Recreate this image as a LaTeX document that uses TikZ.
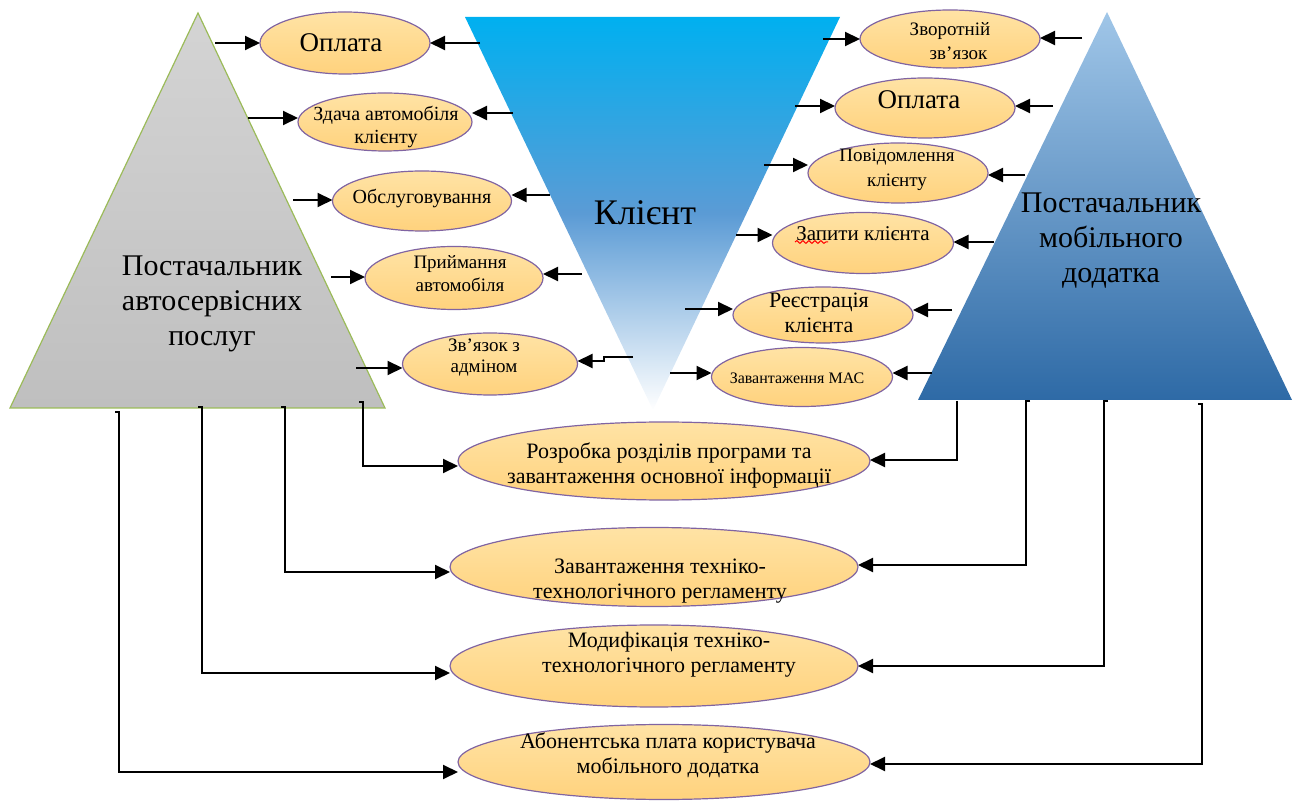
\documentclass[tikz,border=0pt]{standalone}
\usepackage{fontspec}
\setmainfont{Liberation Serif}
\usetikzlibrary{shapes.geometric,arrows.meta,decorations.pathmorphing}

\definecolor{ovalline}{RGB}{128,100,162}
\definecolor{ovaltop}{RGB}{255,227,165}
\definecolor{ovalbot}{RGB}{255,210,125}
\definecolor{greyA}{RGB}{212,212,212}
\definecolor{greyB}{RGB}{191,191,191}
\definecolor{greenedge}{RGB}{155,187,89}
\definecolor{clientTop}{RGB}{0,176,240}
\definecolor{clientMid}{RGB}{91,155,213}
\definecolor{mobTop}{RGB}{160,198,232}
\definecolor{mobBot}{RGB}{46,106,166}

\tikzset{
  oval/.style={ellipse, draw=ovalline, line width=0.6pt, top color=ovaltop,
    bottom color=ovalbot, inner sep=0pt, outer sep=0pt},
  lbl/.style={align=center, inner sep=0pt},
  arr/.style={-{Triangle[length=7.5pt,width=7pt]}, line width=1pt, black},
}

\begin{document}
\begin{tikzpicture}[x=0.5pt,y=-0.5pt]
\useasboundingbox (0,0) rectangle (1296,801);

% ---- three suppliers / client shapes ----
\shade[top color=greyA, bottom color=greyB, draw=greenedge, line width=0.6pt]
  (198,13) -- (385,408) -- (10,408) -- cycle;
\shade[top color=clientTop, bottom color=white, middle color=clientMid]
  (465,17) -- (840,17) -- (653,410) -- cycle;
\shade[top color=mobTop, bottom color=mobBot]
  (1107,12) -- (1292,400) -- (918,400) -- cycle;

\node[lbl, font=\fontsize{15}{17.5}\selectfont] (auto) at (212,304)
  {Постачальник\\автосервісних\\послуг};
\node[lbl, font=\fontsize{18}{20}\selectfont] (client) at (645,213) {Клієнт};
\node[lbl, font=\fontsize{15}{17.5}\selectfont] (mobile) at (1111,241)
  {Постачальник\\мобільного\\додатка};

% ---- ovals, left column ----
\node[oval, minimum width=85pt,   minimum height=31pt]   (eL1) at (345,43)  {};
\node[oval, minimum width=87pt,   minimum height=29pt]   (eL2) at (385,122) {};
\node[oval, minimum width=89.5pt, minimum height=30pt]   (eL3) at (422,201) {};
\node[oval, minimum width=89pt,   minimum height=31.5pt] (eL4) at (454,278) {};
\node[oval, minimum width=87.5pt, minimum height=31pt]   (eL5) at (490,364) {};
% ---- ovals, right column ----
\node[oval, minimum width=90pt,   minimum height=29pt]   (eR1) at (950,39)  {};
\node[oval, minimum width=90pt,   minimum height=30pt]   (eR2) at (925,108) {};
\node[oval, minimum width=90pt,   minimum height=30pt]   (eR3) at (898,173) {};
\node[oval, minimum width=90.5pt, minimum height=30.5pt] (eR4) at (863,243) {};
\node[oval, minimum width=90pt,   minimum height=28pt]   (eR5) at (823,315) {};
\node[oval, minimum width=90.5pt, minimum height=29.5pt] (eR6) at (802,377) {};
% ---- ovals, bottom row ----
\node[oval, minimum width=206pt, minimum height=39pt]   (eB1) at (664,461) {};
\node[oval, minimum width=204pt, minimum height=39.5pt] (eB2) at (654,567) {};
\node[oval, minimum width=204pt, minimum height=41pt]   (eB3) at (654,666) {};
\node[oval, minimum width=206pt, minimum height=37.5pt] (eB4) at (664,762) {};

% ---- oval texts ----
\node[lbl, font=\fontsize{13.5}{15}\selectfont] (tL1) at (341,43) {Оплата};
\node[lbl, font=\fontsize{10}{11.5}\selectfont] (tL2) at (386,127) {Здача автомобіля\\клієнту};
\node[lbl, font=\fontsize{10}{11.5}\selectfont] (tL3) at (422,199) {Обслуговування};
\node[lbl, font=\fontsize{9.5}{11.5}\selectfont] (tL4) at (460,274) {Приймання\\автомобіля};
\node[lbl, font=\fontsize{9.5}{10.5}\selectfont] (tL5) at (484,358) {Зв’язок з\\адміном};

\node[lbl, font=\fontsize{9.5}{12}\selectfont] (tR1) at (950,41) {Зворотній\\\hspace*{0.9em}зв’язок};
\node[lbl, font=\fontsize{13.5}{15}\selectfont] (tR2) at (919,100) {Оплата};
\node[lbl, font=\fontsize{9.5}{12.5}\selectfont] (tR3) at (897,170) {Повідомлення\\клієнту};
\node[lbl, font=\fontsize{10.5}{12}\selectfont] (tR4) at (863,234) {Запити клієнта};
\node[lbl, font=\fontsize{11}{12.5}\selectfont] (tR5) at (819,313) {Реєстрація\\клієнта};
\node[lbl, font=\fontsize{8}{10}\selectfont] (tR6) at (797,378) {Завантаження МАС};

\node[lbl, font=\fontsize{11}{12.5}\selectfont] (tB1) at (669,465)
  {Розробка розділів програми та\\завантаження основної інформації};
\node[lbl, font=\fontsize{11}{12.5}\selectfont] (tB2) at (660,581)
  {Завантаження техніко-\\технологічного регламенту};
\node[lbl, font=\fontsize{11}{12.5}\selectfont] (tB3) at (669,655)
  {Модифікація техніко-\\технологічного регламенту};
\node[lbl, font=\fontsize{11}{12.5}\selectfont] (tB4) at (668,755)
  {Абонентська плата користувача\\мобільного додатка};

% spell-check squiggle under the first letters of "Запити"
\coordinate (sqA) at (795,242);
\coordinate (sqB) at (828,242);
\draw[red, line width=0.5pt, decorate,
  decoration={snake, amplitude=0.7pt, segment length=3pt}] (sqA) -- (sqB);

% ---- connector start points ----
\coordinate (aL1) at (215,43);
\coordinate (aL2) at (248,118);
\coordinate (aL3) at (293,200);
\coordinate (aL4) at (331,277);
\coordinate (aL5) at (356,368);
\coordinate (cL1) at (480,43);
\coordinate (cL2) at (513,113);
\coordinate (cL3) at (550,195);
\coordinate (cL4) at (582,274);
\coordinate (cL5) at (633,357);
\coordinate (cR1) at (823,39);
\coordinate (cR2) at (795,106);
\coordinate (cR3) at (764,165);
\coordinate (cR4) at (736,235);
\coordinate (cR5) at (685,309);
\coordinate (cR6) at (670,373);
\coordinate (mR1) at (1082,38);
\coordinate (mR2) at (1053,106);
\coordinate (mR3) at (1025,175);
\coordinate (mR4) at (994,242);
\coordinate (mR5) at (952,310);
\coordinate (mR6) at (932,373);
\coordinate (bL1) at (363,402);
\coordinate (bL2) at (285,407);
\coordinate (bL3) at (202,407);
\coordinate (bL4) at (119,412);
\coordinate (bR1) at (957,401);
\coordinate (bR2) at (1026,401);
\coordinate (bR3) at (1104,401);
\coordinate (bR4) at (1202,404);

% ---- service supplier -> left ovals ----
\foreach \i in {1,...,5}
  \draw[arr] (aL\i) -- (aL\i -| eL\i.west);
% ---- client -> left ovals ----
\foreach \i in {1,...,4}
  \draw[arr] (cL\i) -- (cL\i -| eL\i.east);
\draw[arr] (cL5) -- ++(-29,0) -- ++(0,4) -- (eL5.east |- 0,361);
% ---- client -> right ovals ----
\foreach \i in {1,...,6}
  \draw[arr] (cR\i) -- (cR\i -| eR\i.west);
% ---- app supplier -> right ovals ----
\foreach \i in {1,...,6}
  \draw[arr] (mR\i) -- (mR\i -| eR\i.east);

% ---- elbow connectors to the bottom row ----
\draw[arr] ([xshift=-2pt]bL1) -- (bL1) |- (eB1.west |- 0,466);
\draw[arr] ([xshift=-2pt]bL2) -- (bL2) |- (eB2.west |- 0,572);
\draw[arr] ([xshift=-2pt]bL3) -- (bL3) |- (eB3.west |- 0,673);
\draw[arr] ([xshift=-2pt]bL4) -- (bL4) |- (eB4.west |- 0,772);
\draw[arr] (bR1) |- (eB1.east |- 0,460);
\draw[arr] ([xshift=2pt]bR2) -- (bR2) |- (eB2.east |- 0,565);
\draw[arr] ([xshift=2pt]bR3) -- (bR3) |- (eB3.east |- 0,666);
\draw[arr] ([xshift=-2pt]bR4) -- (bR4) |- (eB4.east |- 0,764);
\end{tikzpicture}
\end{document}
